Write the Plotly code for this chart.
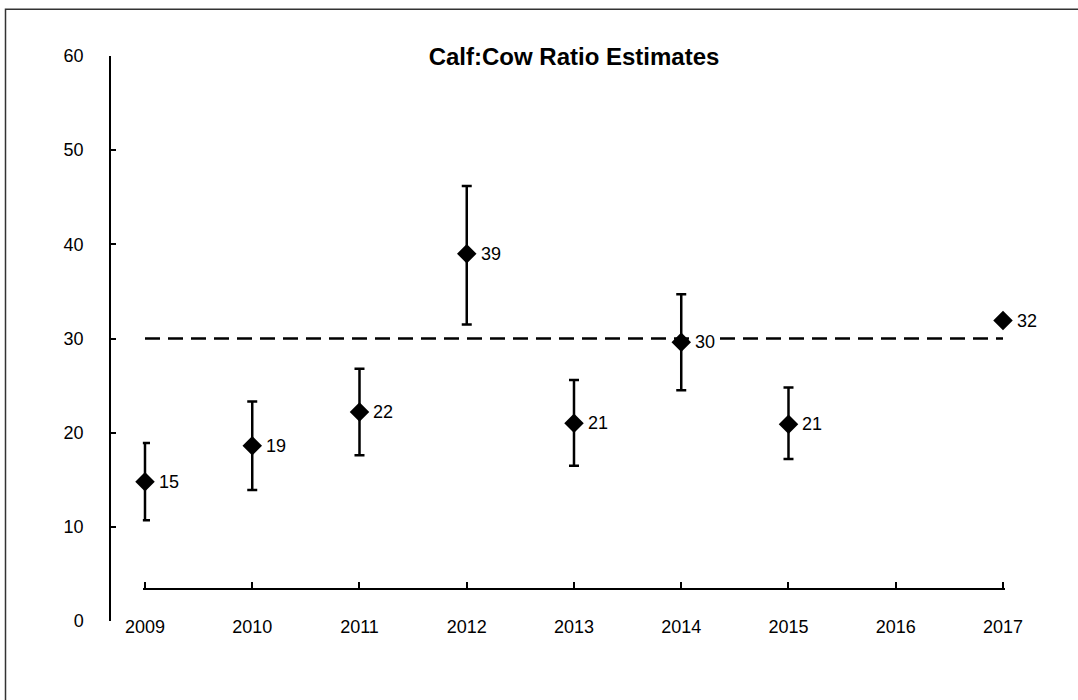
import plotly.graph_objects as go

years = [2009, 2010, 2011, 2012, 2013, 2014, 2015, 2017]
ratio = [14.8, 18.6, 22.2, 39.0, 21.0, 29.6, 20.9, 31.9]
upper = [18.9, 23.3, 26.8, 46.2, 25.6, 34.7, 24.8, None]
lower = [10.7, 13.9, 17.6, 31.5, 16.5, 24.5, 17.2, None]
labels = ["15", "19", "22", "39", "21", "30", "21", "32"]
target_years = [2009, 2017]
target_value = [30, 30]
x_ticks = list(range(2009, 2018))
y_ticks = [0, 10, 20, 30, 40, 50, 60]

err_plus = [None if u is None else u - r for u, r in zip(upper, ratio)]
err_minus = [None if l is None else r - l for l, r in zip(lower, ratio)]

W, H = 1078, 700
ml, mr, mt, mb = 110, 30, 55.7, 78.5
pw = W - ml - mr
ph = H - mt - mb
x_left_px, x_right_px = 145, 1003
xaxis_line_px = 589
pad_yr = 0.02
px_per_yr = (x_right_px - x_left_px) / 8

fig = go.Figure()
fig.add_trace(go.Scatter(
    x=target_years, y=target_value, mode="lines",
    line=dict(color="black", width=2.5, dash="15px,8px"),
    hoverinfo="skip", showlegend=False, cliponaxis=False,
))
fig.add_trace(go.Scatter(
    x=years, y=ratio, mode="markers",
    marker=dict(symbol="diamond", size=15, color="black"),
    error_y=dict(type="data", symmetric=False, array=err_plus, arrayminus=err_minus,
                 color="black", thickness=2.5, width=5),
    showlegend=False, cliponaxis=False,
))
for x, y, t in zip(years, ratio, labels):
    fig.add_annotation(x=x, y=y, text=t, showarrow=False, xanchor="left", yanchor="middle",
                       xshift=12, bgcolor="white", borderpad=1,
                       font=dict(family="Liberation Sans, Arial", size=18, color="black"))

fig.add_shape(type="rect", xref="paper", yref="paper",
              x0=(5.5 - ml) / pw, x1=1.2, y0=-0.3, y1=(H - mb - 9) / ph,
              line=dict(color="#333333", width=1.5), fillcolor="rgba(0,0,0,0)", layer="below")

x_lo_px = x_left_px - pad_yr * px_per_yr
x_hi_px = x_right_px + pad_yr * px_per_yr

fig.update_layout(
    width=W, height=H,
    margin=dict(l=ml, r=mr, t=mt, b=mb, pad=0),
    plot_bgcolor="white", paper_bgcolor="white",
    font=dict(family="Liberation Sans, Arial", size=18, color="black"),
    title=dict(text="<b>Calf:Cow Ratio Estimates</b>", x=((x_left_px + x_right_px) / 2 - ml) / pw,
               xref="paper", xanchor="center", y=1 - 57 / H, yref="container", yanchor="middle",
               font=dict(size=24, color="black")),
    xaxis=dict(
        range=[2009 - pad_yr, 2017 + pad_yr],
        domain=[(x_lo_px - ml) / pw, (x_hi_px - ml) / pw],
        tickvals=x_ticks, ticktext=[str(v) for v in x_ticks],
        ticks="inside", ticklen=6, tickwidth=1.5, tickcolor="black",
        showline=True, linecolor="black", linewidth=1.5,
        showgrid=False, zeroline=False,
        anchor="free", position=(H - mb - xaxis_line_px) / ph,
        ticklabelstandoff=22,
    ),
    yaxis=dict(
        range=[0, 60], domain=[0, 1],
        tickvals=y_ticks,
        ticks="inside", ticklen=5, tickwidth=1.5, tickcolor="black",
        showline=True, linecolor="black", linewidth=1.5,
        showgrid=False, zeroline=False,
        anchor="free", position=0,
        ticklabelstandoff=22,
    ),
)

fig.write_html("out.html", config={"displayModeBar": False},
               post_script="document.body.style.margin='0';document.body.style.overflow='hidden';")
